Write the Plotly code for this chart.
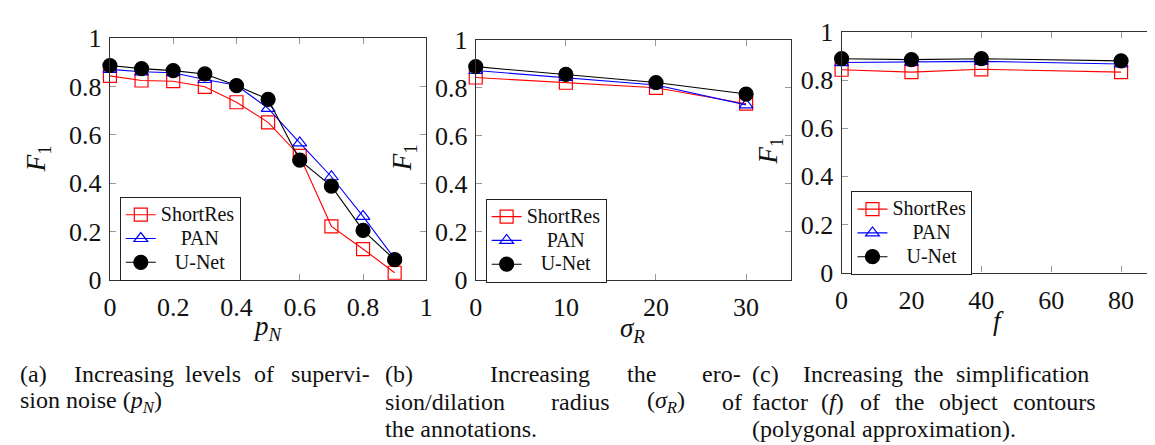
import plotly.graph_objects as go

# ---------------- data ----------------
series_names = ["ShortRes", "PAN", "U-Net"]

pN = [0.0, 0.1, 0.2, 0.3, 0.4, 0.5, 0.6, 0.7, 0.8, 0.9]
a_short = [0.844, 0.825, 0.822, 0.799, 0.735, 0.652, 0.513, 0.222, 0.128, 0.030]
a_pan = [0.871, 0.861, 0.857, 0.829, 0.805, 0.710, 0.567, 0.427, 0.263, 0.088]
a_unet = [0.887, 0.874, 0.866, 0.852, 0.804, 0.747, 0.496, 0.388, 0.205, 0.084]

sigmaR = [0, 10, 20, 30]
b_short = [0.843, 0.821, 0.800, 0.734]
b_pan = [0.872, 0.843, 0.812, 0.729]
b_unet = [0.888, 0.856, 0.822, 0.774]

fvals = [0, 20, 40, 80]
c_short = [0.843, 0.833, 0.845, 0.833]
c_pan = [0.873, 0.875, 0.878, 0.867]
c_unet = [0.889, 0.885, 0.889, 0.880]

y_ticks = [0, 0.2, 0.4, 0.6, 0.8, 1]
y_ticktext = ["0", "0.2", "0.4", "0.6", "0.8", "1"]
a_xticks = [0, 0.2, 0.4, 0.6, 0.8, 1]
a_xticktext = ["0", "0.2", "0.4", "0.6", "0.8", "1"]
b_xticks = [0, 10, 20, 30]
c_xticks = [0, 20, 40, 60, 80]

# ---------------- styling ----------------
W, H = 1155, 445
FONT = "Liberation Serif, Times New Roman, DejaVu Serif, serif"
styles = [
    dict(color="#ff0000", symbol="square-open", size=13),
    dict(color="#0000ff", symbol="triangle-up-open", size=12),
    dict(color="#000000", symbol="circle", size=14),
]
# padded legend labels (rendered at 20px, row spacing from a 16px legend font)
pads = ["", "\u2002\u2002", "\u2002\u2009"]
legend_labels = ['<span style="font-size:20px">' + p + n + "</span>"
                 for p, n in zip(pads, series_names)]

def px(x):
    return x / W

def py(y):
    return 1 - y / H

fig = go.Figure()

panels = [
    (pN, [a_short, a_pan, a_unet], "x", "y", "legend"),
    (sigmaR, [b_short, b_pan, b_unet], "x2", "y2", "legend2"),
    (fvals, [c_short, c_pan, c_unet], "x3", "y3", "legend3"),
]
for xs, ys_list, xa, ya, lg in panels:
    for lab, ys, st in zip(legend_labels, ys_list, styles):
        fig.add_trace(go.Scatter(
            x=xs, y=ys, mode="lines+markers", name=lab,
            xaxis=xa, yaxis=ya, legend=lg, cliponaxis=False,
            line=dict(color=st["color"], width=1.1),
            marker=dict(symbol=st["symbol"], size=st["size"], color=st["color"],
                        line=dict(color=st["color"], width=1.2)),
        ))

axis_common = dict(
    showline=True, mirror="allticks", linecolor="#333333", linewidth=1.3,
    ticks="inside", ticklen=6, tickcolor="#999999", tickwidth=1,
    showgrid=False, zeroline=False,
    tickfont=dict(family=FONT, size=26, color="#111111"),
)

# pixel geometry of each panel: (left, right, top, bottom)
geo = [(96, 416, 17.3, 276), (466, 785, 19, 276), (836, 1154, 10.7, 268)]
xranges = [[0, 1], [0, 35], [0, 90]]
xticks = [(a_xticks, a_xticktext), (b_xticks, [str(v) for v in b_xticks]),
          (c_xticks, [str(v) for v in c_xticks])]

layout = dict(
    width=W, height=H, margin=dict(l=0, r=0, t=0, b=0),
    paper_bgcolor="white", plot_bgcolor="white",
    font=dict(family=FONT, color="#111111"),
)
for i, ((l, r, t, b), xr, (tv, tt)) in enumerate(zip(geo, xranges, xticks)):
    sfx = "" if i == 0 else str(i + 1)
    layout["xaxis" + sfx] = dict(
        axis_common, domain=[px(l), px(r)], range=xr, tickvals=tv, ticktext=tt,
        anchor="y" + sfx, ticklabelstandoff=4,
    )
    layout["yaxis" + sfx] = dict(
        axis_common, domain=[py(b), py(t)], range=[0, 1], tickvals=y_ticks,
        ticktext=y_ticktext, anchor="x" + sfx, ticklabelstandoff=2,
    )

legend_pos = [(106, 187), (476, 189), (846, 181)]
for i, (lx, ly) in enumerate(legend_pos):
    key = "legend" if i == 0 else "legend" + str(i + 1)
    layout[key] = dict(
        x=px(lx), y=py(ly), xanchor="left", yanchor="top",
        bgcolor="white", bordercolor="#222222", borderwidth=1,
        font=dict(family=FONT, size=16, color="#111111"),
        tracegroupgap=0, itemwidth=30,
    )
fig.update_layout(**layout)

anns = []
# axis titles
xt = [("<i>p<sub>N</sub></i>", 256, 327), ("<i>σ<sub>R</sub></i>", 625, 329),
      ("<i>f</i>", 995, 320)]
for txt, x, y in xt:
    anns.append(dict(text=txt, x=px(x), y=py(y), xref="paper", yref="paper",
                     showarrow=False, xanchor="center", yanchor="middle",
                     font=dict(family=FONT, size=27)))
yt = [(24, 146), (393, 145), (764, 138)]
for x, y in yt:
    anns.append(dict(text="<i>F</i><sub>1</sub>", x=px(x), y=py(y), xref="paper",
                     yref="paper", showarrow=False, textangle=-90,
                     xanchor="center", yanchor="middle",
                     font=dict(family=FONT, size=27)))

# captions (word-level placement to mimic justified LaTeX text)
L1, L2, L3 = 377, 406, 435
caption_pieces = [
    ("(a)", 3, L1), ("Increasing", 58, L1), ("levels", 170, L1), ("of", 240, L1),
    ("supervi-", 277, L1),
    ("sion noise (<i>p<sub>N</sub></i>)", 3, L2),
    ("(b)", 372, L1), ("Increasing", 478, L1), ("the", 617, L1), ("ero-", 693, L1),
    ("sion/dilation", 372, L2), ("radius", 540, L2), ("(<i>σ<sub>R</sub></i>)", 637, L2),
    ("of", 713, L2),
    ("the annotations.", 372, L3),
    ("(c)", 743, L1), ("Increasing", 795, L1), ("the", 907, L1),
    ("simplification", 950, L1),
    ("factor", 743, L2), ("(<i>f</i>)", 813, L2), ("of", 853, L2), ("the", 888, L2),
    ("object", 933, L2), ("contours", 1007, L2),
    ("(polygonal approximation).", 743, L3),
]
for txt, x, y in caption_pieces:
    anns.append(dict(text=txt, x=px(x), y=py(y), xref="paper", yref="paper",
                     showarrow=False, xanchor="left", yanchor="middle",
                     font=dict(family=FONT, size=24, color="#111111")))
fig.update_layout(annotations=anns)

fig.write_html("out.html")
